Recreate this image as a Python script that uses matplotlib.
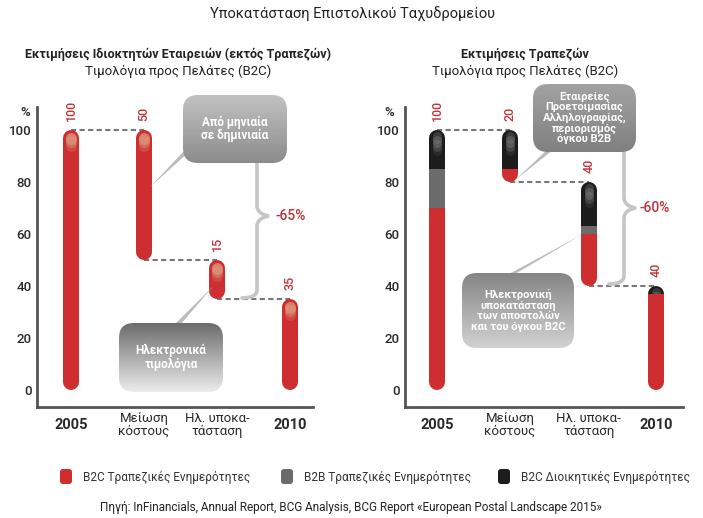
import numpy as np
import matplotlib
matplotlib.use('Agg')
import matplotlib.pyplot as plt
from matplotlib.patches import FancyBboxPatch, Rectangle, Polygon, PathPatch
from matplotlib.path import Path
from matplotlib.colors import LinearSegmentedColormap

plt.rcParams['font.family'] = ['Roboto', 'DejaVu Sans']

W, H = 703, 518

# ---- data ----
categories = ['2005', 'Μείωση\nκόστους', 'Ηλ. υποκα-\nτάσταση', '2010']
bold_cats = ['2005', '2010']
yticks = [0, 20, 40, 60, 80, 100]

left_base = [0, 50, 35, 0]
left_red = [100, 50, 15, 35]
left_labels = ['100', '50', '15', '35']

right_base = [0, 80, 40, 0]
right_red = [70, 5, 20, 37]
right_gray = [15, 0, 3, 0]
right_black = [15, 15, 17, 3]
right_labels = ['100', '20', '40', '40']

legend_labels = ['B2C Τραπεζικές Ενημερότητες', 'B2B Τραπεζικές Ενημερότητες',
                 'B2C Διοικητικές Ενημερότητες']

RED = '#cf2e31'
GRAY = '#6b6b6b'
BLACK = '#1c1c1c'
LBLRED = '#c0353a'

fig = plt.figure(figsize=(W / 100, H / 100), dpi=100)
fig.patch.set_facecolor('white')


def px_axes(x0, y0, x1, y1):
    return fig.add_axes([x0 / W, 1 - y1 / H, (x1 - x0) / W, (y1 - y0) / H])


YLIM = (-6.54, 108.85)
PPU = 300 / (YLIM[1] - YLIM[0])     # pixels per y unit
R = 8 / PPU                         # bar cap radius in data units
LW = 16 * 0.72                      # bar width in points


def style_axes(ax, xpos):
    ax.set_ylim(*YLIM)
    for s in ['top', 'right']:
        ax.spines[s].set_visible(False)
    for s in ['left', 'bottom']:
        ax.spines[s].set_color('#555555')
        ax.spines[s].set_linewidth(2)
    ax.set_yticks(yticks)
    ax.tick_params(axis='y', length=0, pad=4, labelsize=9.5, labelcolor='#2a2a2a')
    for lbl in ax.get_yticklabels():
        lbl.set_fontweight('medium')
    ax.set_xticks(xpos)
    ax.set_xticklabels(categories)
    ax.tick_params(axis='x', length=0, pad=13, labelcolor='#2a2a2a')
    for lbl in ax.get_xticklabels():
        lbl.set_va('center')
        if lbl.get_text() in bold_cats:
            lbl.set_fontweight('bold')
            lbl.set_fontsize(10.5)
        else:
            lbl.set_fontsize(9.5)
            lbl.set_linespacing(1.0)
    ax.patch.set_alpha(0)


def stacked_pill(ax, x, base, segs):
    total = sum(v for v, c in segs)
    lo_all, hi_all = base, base + total
    cur = base
    nonzero = [(v, c) for v, c in segs if v > 0]
    for i, (v, c) in enumerate(nonzero):
        lo = cur if i > 0 else base - 50
        hi = cur + v if i < len(nonzero) - 1 else base + total + 50
        ln, = ax.plot([x, x], [lo_all + R, hi_all - R], color=c, lw=LW,
                      solid_capstyle='round', zorder=3)
        clip = Rectangle((x - 0.4, lo), 0.8, hi - lo, transform=ax.transData)
        ln.set_clip_path(clip)
        cur += v
    # glossy highlight at the top
    topc = nonzero[-1][1]
    top_lo = hi_all - nonzero[-1][0]
    clip = Rectangle((x - 0.4, top_lo), 0.8, 200, transform=ax.transData)
    if topc == RED:
        steps = [(2, 0.55, '#e9c0a0'), (5, 0.45, '#d9a07e'), (9, 0.3, '#d58a6e')]
        for off, a, c in steps:
            h, = ax.plot([x, x], [hi_all - (6 + off) / PPU, hi_all - (7 + off) / PPU],
                         color=c, lw=11 * 0.72, solid_capstyle='round', zorder=4, alpha=a)
            h.set_clip_path(clip)
    else:
        for off, a in [(0, 0.25), (4, 0.3), (8, 0.22), (12, 0.12)]:
            h, = ax.plot([x, x], [hi_all - (6 + off) / PPU, hi_all - (9 + off) / PPU],
                         color='#9a9a9a', lw=9 * 0.72, solid_capstyle='round',
                         zorder=4, alpha=a)
            h.set_clip_path(clip)
    return total


def connectors(ax, xpos, tops):
    for i in range(len(xpos) - 1):
        ax.plot([xpos[i], xpos[i + 1]], [tops[i + 1], tops[i + 1]], color='#777777',
                lw=1.5, ls=(0, (2.5, 1.6)), zorder=2)


# ---- left panel ----
axL = px_axes(37, 107, 313, 407)
xL = [0, 1, 2, 3]
axL.set_xlim(-0.466, 3.315)
style_axes(axL, xL)
topsL = []
for x, b, v, lab in zip(xL, left_base, left_red, left_labels):
    stacked_pill(axL, x, b, [(v, RED)])
    topsL.append(b + v)
    axL.text(x, b + v + 9 / PPU, lab, rotation=90, ha='center', va='bottom',
             color=LBLRED, fontsize=9, fontweight='medium')
connectors(axL, xL, topsL)

# ---- right panel ----
axR = px_axes(405, 107, 683, 407)
xR = [0, 1, 2.08, 3]
axR.set_xlim(-0.438, 3.37)
style_axes(axR, xR)
topsR = []
for x, b, r, g, k, lab in zip(xR, right_base, right_red, right_gray, right_black, right_labels):
    t = stacked_pill(axR, x, b, [(r, RED), (g, GRAY), (k, BLACK)])
    topsR.append(b + t)
    axR.text(x, b + t + 9 / PPU, lab, rotation=90, ha='center', va='bottom',
             color=LBLRED, fontsize=9, fontweight='medium')
connectors(axR, xR, topsR)

for px in (25, 389):
    fig.text(px / W, 1 - 113 / H, '%', ha='center', va='center', fontsize=9.5,
             color='#2a2a2a', fontweight='medium')

# ---- overlay in pixel coordinates ----
ov = fig.add_axes([0, 0, 1, 1], zorder=10)
ov.set_autoscale_on(False)
ov.set_xlim(0, W)
ov.set_ylim(H, 0)
ov.axis('off')
ov.patch.set_alpha(0)


def to_px(ax, x, y):
    p = ax.transData.transform((x, y))
    return ov.transData.inverted().transform(p)


def bubble(x0, y0, x1, y1, c_top, c_bot, text, fs, base, tip):
    bx, by = base
    ov.add_patch(Polygon([(bx - 3, by), (bx + 3, by), tuple(tip)], closed=True,
                         facecolor='#bcbcbc', edgecolor='none', zorder=4))
    patch = FancyBboxPatch((x0, y0), x1 - x0, y1 - y0,
                           boxstyle='round,pad=0,rounding_size=15',
                           facecolor='none', edgecolor='none', zorder=5)
    ov.add_patch(patch)
    cmap = LinearSegmentedColormap.from_list('g', [c_top, c_bot])
    grad = np.linspace(0, 1, 200).reshape(-1, 1)
    im = ov.imshow(grad, extent=(x0, x1, y1, y0), cmap=cmap, aspect='auto',
                   origin='upper', zorder=5, interpolation='bilinear')
    im.set_clip_path(patch)
    ov.text((x0 + x1) / 2, (y0 + y1) / 2, text, ha='center', va='center', color='white',
            fontsize=fs, fontweight='bold', linespacing=1.05, zorder=6)


bubble(183, 95, 287, 163, '#c2c2c2', '#8c8c8c', 'Από μηνιαία\nσε δημινιαία', 8.5,
       (186, 152), to_px(axL, 1.08, 78))
bubble(119, 323, 223, 392, '#6c6c6c', '#ececec', 'Ηλεκτρονικά\nτιμολόγια', 8.5,
       (178, 324), to_px(axL, 1.95, 40))
bubble(533, 84, 636, 152, '#a2a2a2', '#808080',
       'Εταιρείες\nΠροετοιμασίας\nΑλληλογραφίας,\nπεριορισμός\nόγκου B2B', 8,
       (550, 150), to_px(axR, 1.06, 80.5))
bubble(462, 273, 574, 348, '#858585', '#d2d2d2',
       'Ηλεκτρονική\nυποκατάσταση\nτων αποστολών\nκαι του όγκου B2C', 8,
       (512, 274), to_px(axR, 2.0, 60))


def brace(x, y_top, y_mid, y_bot, tip_dx, hook_dx):
    verts = [(x, y_top), (x, y_mid - 10), (x, y_mid - 2), (x + tip_dx, y_mid),
             (x, y_mid + 2), (x, y_mid + 10), (x, y_bot - 8), (x, y_bot), (x + hook_dx, y_bot)]
    codes = [Path.MOVETO, Path.LINETO, Path.CURVE3, Path.CURVE3,
             Path.CURVE3, Path.CURVE3, Path.LINETO, Path.CURVE3, Path.CURVE3]
    ov.add_patch(PathPatch(Path(verts, codes), facecolor='none', edgecolor='#c6c6c6',
                           lw=2.6, zorder=4, capstyle='round'))


brace(257, 163, 216, 298, 12, -15)
brace(624, 152, 208, 284, 12, -15)
ov.text(291, 216, '-65%', ha='center', va='center', color=LBLRED, fontsize=10,
        fontweight='medium')
ov.text(655, 208, '-60%', ha='center', va='center', color=LBLRED, fontsize=10,
        fontweight='medium')

# ---- titles ----
ov.text(352, 14, 'Υποκατάσταση Επιστολικού Ταχυδρομείου', ha='center', va='center',
        fontsize=10.5, color='#222222')
ov.text(178, 54, 'Εκτιμήσεις Ιδιοκτητών Εταιρειών (εκτός Τραπεζών)', ha='center',
        va='center', fontsize=9, fontweight='bold', color='#222222')
ov.text(178, 71, 'Τιμολόγια προς Πελάτες (B2C)', ha='center', va='center',
        fontsize=9.5, color='#222222')
ov.text(525, 54, 'Εκτιμήσεις Τραπεζών', ha='center', va='center', fontsize=9,
        fontweight='bold', color='#222222')
ov.text(525, 71, 'Τιμολόγια προς Πελάτες (B2C)', ha='center', va='center',
        fontsize=9.5, color='#222222')

# ---- legend ----
for (sx, tx), col, lab in zip([(60, 83), (281, 304), (498, 521)], [RED, GRAY, BLACK],
                              legend_labels):
    ov.add_patch(FancyBboxPatch((sx, 469), 12, 15, boxstyle='round,pad=0,rounding_size=3',
                                facecolor=col, edgecolor='none'))
    ov.text(tx, 477, lab, ha='left', va='center', fontsize=8.5, color='#333333')

ov.text(351, 507, 'Πηγή: InFinancials, Annual Report, BCG Analysis, BCG Report '
        '«European Postal Landscape 2015»', ha='center', va='center', fontsize=8.5,
        color='#222222')

fig.savefig('out.png', dpi=100)
